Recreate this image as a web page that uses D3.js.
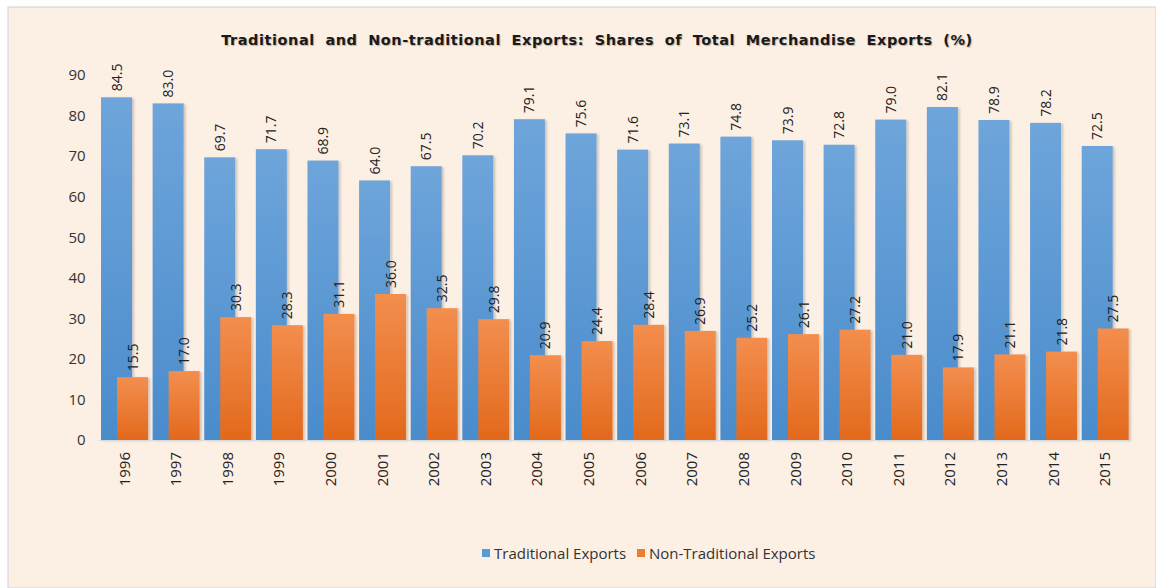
<!DOCTYPE html>
<html>
<head>
<meta charset="utf-8">
<script src="https://cdn.jsdelivr.net/npm/d3@7/dist/d3.min.js"></script>
<style>
  html, body { margin: 0; padding: 0; background: #ffffff; }
  svg { display: block; }
</style>
</head>
<body>
<svg id="chart" width="1156" height="588"></svg>
<script>
// Export shares by year
const years = ["1996","1997","1998","1999","2000","2001","2002","2003","2004","2005",
               "2006","2007","2008","2009","2010","2011","2012","2013","2014","2015"];
const traditional = [84.5,83.0,69.7,71.7,68.9,64.0,67.5,70.2,79.1,75.6,
                     71.6,73.1,74.8,73.9,72.8,79.0,82.1,78.9,78.2,72.5];
const nonTraditional = [15.5,17.0,30.3,28.3,31.1,36.0,32.5,29.8,20.9,24.4,
                        28.4,26.9,25.2,26.1,27.2,21.0,17.9,21.1,21.8,27.5];
const yTicks = [0,10,20,30,40,50,60,70,80,90];
const seriesNames = ["Traditional Exports", "Non-Traditional Exports"];

const W = 1156, H = 588;
const svg = d3.select("#chart");

// Panel background
const defs = svg.append("defs");
svg.append("rect").attr("x", 8).attr("y", 7).attr("width", W - 8).attr("height", H - 7)
  .attr("fill", "#fcefe3").attr("stroke", "#c9d3dc").attr("stroke-width", 1);

// Bar gradients
const gBlue = defs.append("linearGradient").attr("id", "gBlue").attr("x1", 0).attr("y1", 0).attr("x2", 0).attr("y2", 1);
gBlue.append("stop").attr("offset", "0%").attr("stop-color", "#6ea5da");
gBlue.append("stop").attr("offset", "100%").attr("stop-color", "#4a8ccc");
const gOrange = defs.append("linearGradient").attr("id", "gOrange").attr("x1", 0).attr("y1", 0).attr("x2", 0).attr("y2", 1);
gOrange.append("stop").attr("offset", "0%").attr("stop-color", "#f38e4e");
gOrange.append("stop").attr("offset", "100%").attr("stop-color", "#e2691c");

const shadow = defs.append("filter").attr("id", "shadow").attr("x", "-20%").attr("y", "-20%").attr("width", "150%").attr("height", "150%");
shadow.append("feDropShadow").attr("dx", 2).attr("dy", 1).attr("stdDeviation", 1.2)
  .attr("flood-color", "#000").attr("flood-opacity", 0.18);

const plotLeft = 98.7, plotRight = 1131, plotTop = 75, plotBottom = 440;

const x = d3.scaleBand().domain(years).range([plotLeft, plotRight]).paddingInner(0).paddingOuter(0);
const y = d3.scaleLinear().domain([0, 90]).range([plotBottom, plotTop]);

const step = x.bandwidth();
const barW = 31;
const blueOff = step / 2 - 23.5;
const orangeOff = step / 2 - 7.5;

// Title
svg.append("text")
  .attr("x", 597).attr("y", 45)
  .attr("text-anchor", "middle")
  .attr("font-family", "'DejaVu Sans', Verdana, sans-serif")
  .attr("font-weight", "bold")
  .attr("font-size", 14.5)
  .attr("word-spacing", 5)
  .attr("letter-spacing", 0.55)
  .attr("fill", "#1a1a1a")
  .style("text-shadow", "1px 1px 1px rgba(0,0,0,0.25)")
  .text("Traditional and Non-traditional Exports:  Shares of Total Merchandise Exports (%)");

// Y axis labels
const yAxis = d3.axisLeft(y).tickValues(yTicks).tickSize(0).tickPadding(13);
const yG = svg.append("g").attr("transform", `translate(${plotLeft},0)`).call(yAxis);
yG.select(".domain").remove();
yG.selectAll("text")
  .attr("font-family", "'Open Sans', 'Noto Sans', sans-serif")
  .attr("font-size", 15).attr("fill", "#333");

// Traditional bars
const bars = svg.append("g").attr("filter", "url(#shadow)");
bars.selectAll("rect.trad").data(years).join("rect")
  .attr("class", "trad")
  .attr("x", (d) => x(d) + blueOff)
  .attr("width", barW)
  .attr("y", (d, i) => y(traditional[i]))
  .attr("height", (d, i) => y(0) - y(traditional[i]))
  .attr("fill", "url(#gBlue)");

// Non-traditional bars (drawn over the traditional ones)
bars.selectAll("rect.non").data(years).join("rect")
  .attr("class", "non")
  .attr("x", (d) => x(d) + orangeOff)
  .attr("width", barW)
  .attr("y", (d, i) => y(nonTraditional[i]))
  .attr("height", (d, i) => y(0) - y(nonTraditional[i]))
  .attr("fill", "url(#gOrange)");

// Baseline
svg.append("line").attr("x1", plotLeft).attr("x2", plotRight).attr("y1", plotBottom + 0.5).attr("y2", plotBottom + 0.5)
  .attr("stroke", "#d9d9d9").attr("stroke-width", 1);

// Value labels, rotated
const labelFont = "'Open Sans', 'Noto Sans', sans-serif";
function addLabels(vals, off) {
  svg.append("g").selectAll("text").data(years).join("text")
    .attr("transform", (d, i) => `translate(${x(d) + off + barW / 2 + 5},${y(vals[i]) - 6}) rotate(-90)`)
    .attr("text-anchor", "start")
    .attr("font-family", labelFont)
    .attr("font-size", 14)
    .attr("fill", "#222")
    .text((d, i) => vals[i].toFixed(1));
}
addLabels(traditional, blueOff);
addLabels(nonTraditional, orangeOff);

// X axis labels, rotated
svg.append("g").selectAll("text").data(years).join("text")
  .attr("transform", (d) => `translate(${x(d) + step / 2 + 5},${plotBottom + 12}) rotate(-90)`)
  .attr("text-anchor", "end")
  .attr("font-family", labelFont)
  .attr("font-size", 15)
  .attr("fill", "#222")
  .text((d) => d);

// Legend
const legend = svg.append("g").attr("transform", "translate(482,554)");
const legendColors = ["#5b9bd5", "#ed7d31"];
const legendX = [0, 155];
seriesNames.forEach((name, i) => {
  legend.append("rect").attr("x", legendX[i]).attr("y", -5).attr("width", 8).attr("height", 8)
    .attr("fill", legendColors[i]);
  legend.append("text").attr("x", legendX[i] + 12).attr("y", 0).attr("dy", "0.35em")
    .attr("font-family", labelFont).attr("font-size", 15).attr("fill", "#333")
    .text(name);
});
</script>
</body>
</html>
